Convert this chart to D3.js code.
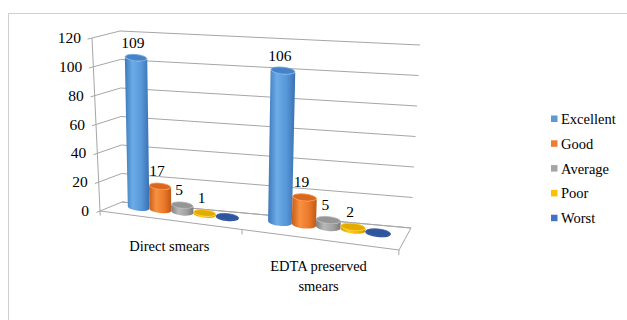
<!DOCTYPE html>
<html><head><meta charset="utf-8">
<script src="https://cdn.jsdelivr.net/npm/d3@7"></script>
<style>
html,body{margin:0;padding:0;background:#fff;}
</style></head>
<body><svg id="chart" width="627" height="320" font-family="'Liberation Serif', 'Times New Roman', 'DejaVu Serif', serif"></svg>
<script>
const categories = ["Direct smears", "EDTA preserved smears"];
const categoryLines = [["Direct smears"], ["EDTA preserved", "smears"]];
const series = ["Excellent", "Good", "Average", "Poor", "Worst"];
const excellent = [109, 106];
const good = [17, 19];
const average = [5, 5];
const poor = [1, 2];
const worst = [0, 0];
const yTicks = [0, 20, 40, 60, 80, 100, 120];

const values = [excellent, good, average, poor, worst];
const colors = {
  Excellent: {base:"#5B9BD5", stops:["#3C78BA","#6DACE8","#5796D8","#3870B2"], top:"#4682C8", rim:"#6FA9E2"},
  Good:      {base:"#ED7D31", stops:["#C55E19","#F8913F","#EB792B","#C25814"], top:"#D9681E", rim:"#F58A3B"},
  Average:   {base:"#A5A5A5", stops:["#7F7F7F","#B8B8B8","#A2A2A2","#7A7A7A"], top:"#959595", rim:"#B2B2B2"},
  Poor:      {base:"#FFC000", stops:["#D9A000","#FFCB20","#F5B800","#D09800"], top:"#E3AA00", rim:"#FFC81A"},
  Worst:     {base:"#4472C4", stops:["#2B4E8E","#4068B5","#3760A8","#294A88"], top:"#2F569C", rim:"#3C66B0"}
};

const svg = d3.select("#chart");
const defs = svg.append("defs");

// chart area border
svg.append("rect").attr("x", 8.5).attr("y", 13.5).attr("width", 640).attr("height", 330)
  .attr("fill", "none").attr("stroke", "#D0D0D0").attr("stroke-width", 1);

// scales
const yScale = d3.scaleLinear().domain([0, 120]).range([0, 1]);
const barScale = d3.scaleLinear().domain([0, 120]).range([0, 0.955]);
const x0 = d3.scaleBand().domain(categories).range([0, 1]);
const x1 = d3.scaleBand().domain(series).range([0, x0.bandwidth()]).paddingOuter(0.625);
const warp = u => u / (1.105 - 0.105 * u);

// 3D box corners in screen space (front/back, left/right, bottom/top)
const C = {
  fl0:[100,211], fl1:[92,38], bl0:[122,202], bl1:[120,31],
  br0:[411,228], br1:[420,45], fr0:[399,250], fr1:[409,58]
};
const lerp = (a, b, t) => [a[0] + (b[0]-a[0])*t, a[1] + (b[1]-a[1])*t];
function projW(u, v, w) {
  const a = warp(u);
  const f0 = lerp(C.fl0, C.fr0, a), f1 = lerp(C.fl1, C.fr1, a);
  const b0 = lerp(C.bl0, C.br0, a), b1 = lerp(C.bl1, C.br1, a);
  const p0 = lerp(f0, b0, v), p1 = lerp(f1, b1, v);
  return lerp(p0, p1, w);
}
const proj = (u, v, val) => projW(u, v, yScale(val));
const projBar = (u, v, val) => projW(u, v, barScale(val));

const gridColor = "#A6A6A6";
const gGrid = svg.append("g").attr("stroke", gridColor).attr("stroke-width", 1).attr("fill", "none");
const line = d3.line();

// floor
gGrid.append("path").attr("d", line([proj(0,1,0), proj(1,1,0), proj(1,0,0), proj(0,0,0)]));
// gridlines (side wall + back wall)
yTicks.forEach(t => {
  gGrid.append("path").attr("d", line([proj(0,0,t), proj(0,1,t), proj(1,1,t)]));
  gGrid.append("path").attr("d", line([proj(0,0,t), proj(0,-0.16,t)]));
});
// vertical axis
gGrid.append("path").attr("d", line([proj(0,0,0), proj(0,0,120)]));
// category ticks
[0, 0.5, 1].forEach(u => gGrid.append("path").attr("d", line([proj(u,0,0), proj(u,0,-3.2)])));

// y tick labels
svg.append("g").selectAll("text").data(yTicks).join("text")
  .attr("x", d => proj(0,0,d)[0] - 11)
  .attr("y", d => proj(0,0,d)[1] + 5)
  .attr("text-anchor", "end").attr("font-size", 15.5)
  .text(d => d);

// category labels
categories.forEach((c, i) => {
  const uc = x0(c) + x0.bandwidth()/2;
  const p = proj(uc, 0, 0);
  const t = svg.append("text").attr("text-anchor", "middle").attr("font-size", 14.5);
  categoryLines[i].forEach((ln, k) => {
    t.append("tspan").attr("x", p[0]).attr("y", p[1] + 31 + k*20).text(ln);
  });
});

// gradients
series.forEach((s, i) => {
  const g = defs.append("linearGradient").attr("id", "grad" + i)
    .attr("x1", "0").attr("x2", "1").attr("y1", "0").attr("y2", "0");
  [0, 0.32, 0.68, 1].forEach((o, k) => g.append("stop").attr("offset", o).attr("stop-color", colors[s].stops[k]));
});

// cylinders
const vBar = 0.66;
const ratio = 0.3;
const gBars = svg.append("g");
const gLabels = svg.append("g");
categories.forEach((c, ci) => {
  series.forEach((s, si) => {
    const val = values[si][ci];
    const uL = x0(c) + x1(s), uR = uL + x1.bandwidth(), uC = (uL + uR)/2;
    const bL = projBar(uL, vBar, 0), bR = projBar(uR, vBar, 0), bC = projBar(uC, vBar, 0);
    const tL = projBar(uL, vBar, val), tR = projBar(uR, vBar, val), tC = projBar(uC, vBar, val);
    const rx = Math.hypot(bR[0]-bL[0], bR[1]-bL[1]) / 2;
    const ry = rx * ratio;
    const ang = Math.atan2(bR[1]-bL[1], bR[0]-bL[0]) * 180 / Math.PI;
    const rxT = Math.hypot(tR[0]-tL[0], tR[1]-tL[1]) / 2, ryT = rxT * ratio;
    const col = colors[s];
    const g = gBars.append("g");
    if (val > 0) {
      const d = `M${tL[0]},${tL[1]} L${bL[0]},${bL[1]} A${rx},${ry} ${ang} 0 0 ${bR[0]},${bR[1]} L${tR[0]},${tR[1]} A${rxT},${ryT} ${ang} 0 1 ${tL[0]},${tL[1]} Z`;
      g.append("path").attr("d", d).attr("fill", `url(#grad${si})`);
    } else {
      g.append("ellipse").attr("cx", bC[0]).attr("cy", bC[1] + 0.8).attr("rx", rx).attr("ry", ry)
        .attr("transform", `rotate(${ang},${bC[0]},${bC[1]})`).attr("fill", col.stops[3]);
    }
    g.append("ellipse").attr("cx", tC[0]).attr("cy", tC[1]).attr("rx", rxT - 0.4).attr("ry", ryT - 0.3)
      .attr("transform", `rotate(${ang},${tC[0]},${tC[1]})`)
      .attr("fill", col.top).attr("stroke", col.rim).attr("stroke-width", 0.8);
    if (val > 0) {
      gLabels.append("text").attr("x", tC[0] - 3).attr("y", tC[1] - 10)
        .attr("text-anchor", "middle").attr("font-size", 15.5).text(val);
    }
  });
});

// legend
const legend = svg.append("g").attr("transform", "translate(551,119)");
series.forEach((s, i) => {
  const row = legend.append("g").attr("transform", `translate(0,${i * 24.8})`);
  row.append("rect").attr("x", 0).attr("y", -3.5).attr("width", 6.5).attr("height", 6.5).attr("fill", colors[s].base);
  row.append("text").attr("x", 10).attr("y", 5).attr("font-size", 14.5).text(s);
});
</script></body></html>
